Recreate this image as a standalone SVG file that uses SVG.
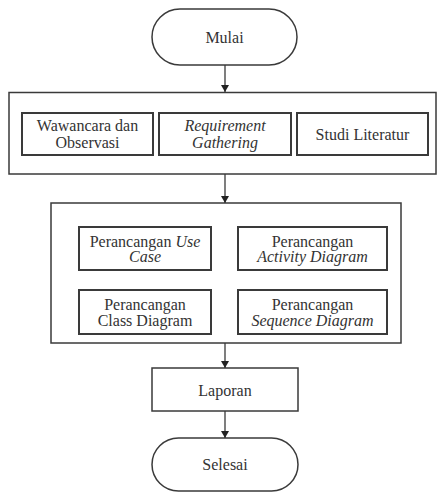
<svg xmlns="http://www.w3.org/2000/svg" width="437" height="492" viewBox="0 0 437 492" font-family="Liberation Serif, DejaVu Serif, serif">
<defs>
<style>
.box{fill:#fff;stroke:#3a3a3a;stroke-width:1.5}
.inner{fill:#fff;stroke:#3a3a3a;stroke-width:2}
text{font-size:16px;fill:#333;text-anchor:middle}
.i{font-style:italic}
.c{stroke:#3a3a3a;stroke-width:1.3;fill:none}
</style>
<marker id="ah" markerWidth="8" markerHeight="8" refX="7" refY="4" orient="auto" markerUnits="userSpaceOnUse">
<path d="M0,0 L7,4 L0,8 Z" fill="#222"/>
</marker>
</defs>
<rect width="437" height="492" fill="#fff"/>
<g id="mulai">
<rect class="box" x="152" y="9" width="145" height="56" rx="28" ry="28"/>
<text x="224.5" y="43">Mulai</text>
</g>
<g id="tahap1">
<rect class="box" x="9" y="92.5" width="427" height="81.5"/>
</g>
<g id="wawancara">
<rect class="inner" x="22" y="113" width="131" height="42"/>
<text x="87.5" y="131">Wawancara dan</text>
<text x="87.5" y="148">Observasi</text>
</g>
<g id="requirement">
<rect class="inner" x="159" y="113" width="132" height="42"/>
<text class="i" x="225" y="131">Requirement</text>
<text class="i" x="225" y="148">Gathering</text>
</g>
<g id="studi">
<rect class="inner" x="297" y="113" width="131" height="42"/>
<text x="362.5" y="140">Studi Literatur</text>
</g>
<g id="tahap2">
<rect class="box" x="51" y="203" width="350" height="140"/>
</g>
<g id="usecase">
<rect class="inner" x="79" y="227" width="132" height="43"/>
<text x="145" y="246.5">Perancangan <tspan class="i">Use</tspan></text>
<text class="i" x="145" y="262">Case</text>
</g>
<g id="activity">
<rect class="inner" x="238" y="227" width="149" height="43"/>
<text x="312.5" y="246.5">Perancangan</text>
<text class="i" x="312.5" y="262">Activity Diagram</text>
</g>
<g id="class">
<rect class="inner" x="79" y="290" width="132" height="44"/>
<text x="145" y="310">Perancangan</text>
<text x="145" y="326">Class Diagram</text>
</g>
<g id="sequence">
<rect class="inner" x="238" y="290" width="149" height="44"/>
<text x="312.5" y="310">Perancangan</text>
<text class="i" x="312.5" y="326">Sequence Diagram</text>
</g>
<g id="laporan">
<rect class="box" x="152" y="368" width="146" height="43"/>
<text x="225" y="396">Laporan</text>
</g>
<g id="selesai">
<rect class="box" x="152" y="438" width="146" height="53" rx="26.5" ry="26.5"/>
<text x="225" y="470">Selesai</text>
</g>
<g id="connectors">
<line class="c" x1="225" y1="65" x2="225" y2="92" marker-end="url(#ah)"/>
<line class="c" x1="225" y1="174" x2="225" y2="203" marker-end="url(#ah)"/>
<line class="c" x1="225" y1="343" x2="225" y2="368" marker-end="url(#ah)"/>
<line class="c" x1="225" y1="411" x2="225" y2="438" marker-end="url(#ah)"/>
</g>
</svg>
